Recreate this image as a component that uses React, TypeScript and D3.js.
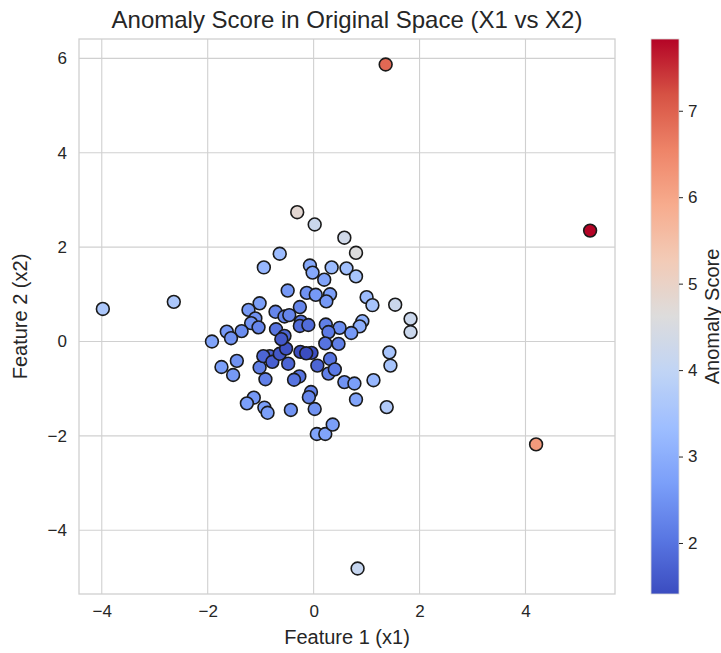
import { useEffect, useRef } from "react";
import * as d3 from "d3";

// Feature 1 (x1), Feature 2 (x2) and the anomaly score of each point
const x1Values = [
  1.36, 5.22, 4.2, 0.83, -3.98, -2.64, -0.31, 0.02, 0.58, 0.8,
  -0.64, -0.94, -0.07, -0.02, 0.34, 0.62, 0.8, 0.2, -0.49, -0.13,
  0.04, 0.31, 0.24, 1.0, 1.11, 1.54, 1.83, 1.83, 0.92, 0.87,
  0.71, 0.49, 0.23, 0.28, 0.22, 0.47, -1.02, -1.23, -1.1, -1.18,
  -1.04, -0.72, -0.55, -0.46, -0.26, -0.71, -0.55, -0.24, -0.26, -0.1,
  -1.64, -1.36, -1.56, -1.92, -1.74, -1.45, -1.52, -1.02, -0.91, -0.83,
  -0.95, -0.78, -0.64, -0.52, -0.48, -0.27, -0.37, -0.25, -0.04, -0.14,
  -0.61, -1.13, -1.26, -0.93, -0.87, -0.43, -0.05, -0.09, 0.02, 0.06,
  0.22, 0.36, 1.43, 1.45, 1.13, 0.58, 0.77, 0.8, 1.38, 0.31,
  0.28, 0.07, 0.4,
];
const x2Values = [
  5.87, 2.35, -2.18, -4.81, 0.69, 0.84, 2.74, 2.48, 2.2, 1.88,
  1.86, 1.57, 1.61, 1.46, 1.57, 1.55, 1.38, 1.31, 1.08, 1.03,
  0.99, 1.0, 0.85, 0.94, 0.77, 0.78, 0.48, 0.2, 0.43, 0.32,
  0.18, 0.29, 0.36, 0.2, -0.04, -0.05, 0.81, 0.67, 0.49, 0.39,
  0.3, 0.63, 0.53, 0.56, 0.73, 0.26, 0.12, 0.42, 0.33, 0.35,
  0.21, 0.22, 0.07, 0.0, -0.54, -0.41, -0.71, -0.55, -0.8, -0.31,
  -0.31, -0.43, -0.26, -0.15, -0.47, -0.74, -0.81, -0.22, -0.24, -0.25,
  0.05, -1.19, -1.31, -1.4, -1.51, -1.45, -1.07, -1.18, -1.43, -1.96,
  -1.96, -1.76, -0.23, -0.51, -0.82, -0.86, -0.89, -1.23, -1.39, -0.37,
  -0.68, -0.51, -0.59,
];
const anomalyScores = [
  6.9, 7.83, 6.2, 4.1, 3.6, 3.6, 4.8, 4.2, 4.3, 4.6,
  3.3, 3.2, 2.9, 2.9, 3.3, 3.4, 3.5, 2.8, 2.6, 2.5,
  2.6, 2.7, 2.6, 3.3, 3.5, 4.2, 4.2, 4.2, 3.1, 3.0,
  2.6, 2.4, 2.2, 2.1, 2.0, 2.2, 2.7, 2.6, 2.5, 2.5,
  2.3, 2.3, 2.3, 2.3, 2.3, 2.0, 1.8, 2.0, 1.9, 1.9,
  2.6, 2.4, 2.5, 2.8, 2.7, 2.5, 2.6, 2.2, 2.2, 1.7,
  1.8, 1.7, 1.6, 1.5, 1.8, 2.0, 2.0, 1.42, 1.45, 1.42,
  1.6, 2.6, 2.7, 2.7, 2.7, 2.5, 2.2, 2.3, 2.5, 2.8,
  2.8, 2.7, 3.5, 3.5, 3.2, 2.5, 2.7, 2.8, 3.7, 2.0,
  2.2, 1.8, 2.1,
];

const xTicks = [-4, -2, 0, 2, 4];
const yTicks = [-4, -2, 0, 2, 4, 6];
const colorbarTicks = [2, 3, 4, 5, 6, 7];
const coolwarm = [
  "#3b4cc0", "#5977e3", "#7b9ff9", "#9ebeff", "#c0d4f5", "#dddcdc",
  "#f2cbb7", "#f7ac8e", "#ee8468", "#d65244", "#b40426",
];

export default function App() {
  const chartRef = useRef<SVGSVGElement>(null);

  useEffect(() => {
    if (!chartRef.current) return;
    document.body.style.margin = "0";

    const svg = d3.select(chartRef.current);
    svg.selectAll("*").remove();

    const width = 721;
    const height = 653;
    const left = 79;
    const right = 615;
    const top = 39;
    const bottom = 594;
    const font = "'Liberation Sans', Arial, sans-serif";
    const textColor = "#262626";

    const points = x1Values.map((x, i) => ({ x, y: x2Values[i], s: anomalyScores[i] }));

    const x = d3.scaleLinear().domain([-4.43, 5.69]).range([left, right]);
    const y = d3.scaleLinear().domain([-5.35, 6.41]).range([bottom, top]);
    const scoreDomain: [number, number] = [1.41, 7.83];
    const colorInterp = d3.piecewise(d3.interpolateRgb, coolwarm);
    const color = d3.scaleSequential(colorInterp).domain(scoreDomain);

    svg.attr("width", width).attr("height", height).style("font-family", font);

    // grid
    const grid = svg.append("g").attr("stroke", "#d0d0d0").attr("stroke-width", 1.1);
    grid.selectAll("line.gx").data(xTicks).join("line")
      .attr("x1", d => x(d)).attr("x2", d => x(d))
      .attr("y1", top).attr("y2", bottom);
    grid.selectAll("line.gy").data(yTicks).join("line")
      .attr("x1", left).attr("x2", right)
      .attr("y1", d => y(d)).attr("y2", d => y(d));

    // frame
    svg.append("rect")
      .attr("x", left).attr("y", top)
      .attr("width", right - left).attr("height", bottom - top)
      .attr("fill", "none").attr("stroke", "#d0d0d0").attr("stroke-width", 1.3);

    // points
    svg.append("g")
      .selectAll("circle")
      .data(points)
      .join("circle")
      .attr("cx", d => x(d.x))
      .attr("cy", d => y(d.y))
      .attr("r", 6.4)
      .attr("fill", d => color(d.s))
      .attr("stroke", "#1a1a1a")
      .attr("stroke-width", 1.6);

    // x axis
    svg.append("g")
      .attr("transform", `translate(0,${bottom})`)
      .call(d3.axisBottom(x).tickValues(xTicks).tickSize(0).tickPadding(11))
      .call(g => g.select(".domain").remove())
      .selectAll("text")
      .attr("fill", textColor)
      .style("font-size", "17px")
      .style("font-family", font);

    // y axis
    svg.append("g")
      .attr("transform", `translate(${left},0)`)
      .call(d3.axisLeft(y).tickValues(yTicks).tickSize(0).tickPadding(12))
      .call(g => g.select(".domain").remove())
      .selectAll("text")
      .attr("fill", textColor)
      .style("font-size", "17px")
      .style("font-family", font);

    // labels
    svg.append("text")
      .attr("x", (left + right) / 2)
      .attr("y", 644)
      .attr("text-anchor", "middle")
      .attr("fill", textColor)
      .style("font-size", "20px")
      .text("Feature 1 (x1)");

    svg.append("text")
      .attr("transform", `translate(27,${(top + bottom) / 2}) rotate(-90)`)
      .attr("text-anchor", "middle")
      .attr("fill", textColor)
      .style("font-size", "20px")
      .text("Feature 2 (x2)");

    svg.append("text")
      .attr("x", (left + right) / 2)
      .attr("y", 28)
      .attr("text-anchor", "middle")
      .attr("fill", textColor)
      .style("font-size", "24px")
      .text("Anomaly Score in Original Space (X1 vs X2)");

    // colorbar
    const cbLeft = 651;
    const cbWidth = 28;
    const cb = d3.scaleLinear().domain(scoreDomain).range([bottom, top]);
    const grad = svg.append("defs").append("linearGradient")
      .attr("id", "cbGrad")
      .attr("x1", 0).attr("y1", 1).attr("x2", 0).attr("y2", 0);
    grad.selectAll("stop")
      .data(d3.range(0, 1.0001, 0.02))
      .join("stop")
      .attr("offset", d => d)
      .attr("stop-color", d => colorInterp(d));

    svg.append("rect")
      .attr("x", cbLeft).attr("y", top)
      .attr("width", cbWidth).attr("height", bottom - top)
      .attr("fill", "url(#cbGrad)")
      .attr("stroke", "#d8d8d8").attr("stroke-width", 0.8);

    svg.append("g")
      .attr("transform", `translate(${cbLeft + cbWidth},0)`)
      .call(d3.axisRight(cb).tickValues(colorbarTicks).tickFormat(d3.format("d")).tickSize(4).tickPadding(5))
      .call(g => g.select(".domain").remove())
      .call(g => g.selectAll("line").attr("stroke", textColor).attr("stroke-width", 1))
      .selectAll("text")
      .attr("fill", textColor)
      .style("font-size", "17px")
      .style("font-family", font);

    svg.append("text")
      .attr("transform", `translate(719,${(top + bottom) / 2}) rotate(-90)`)
      .attr("text-anchor", "middle")
      .attr("fill", textColor)
      .style("font-size", "20px")
      .text("Anomaly Score");
  }, []);

  return <svg ref={chartRef}></svg>;
}
